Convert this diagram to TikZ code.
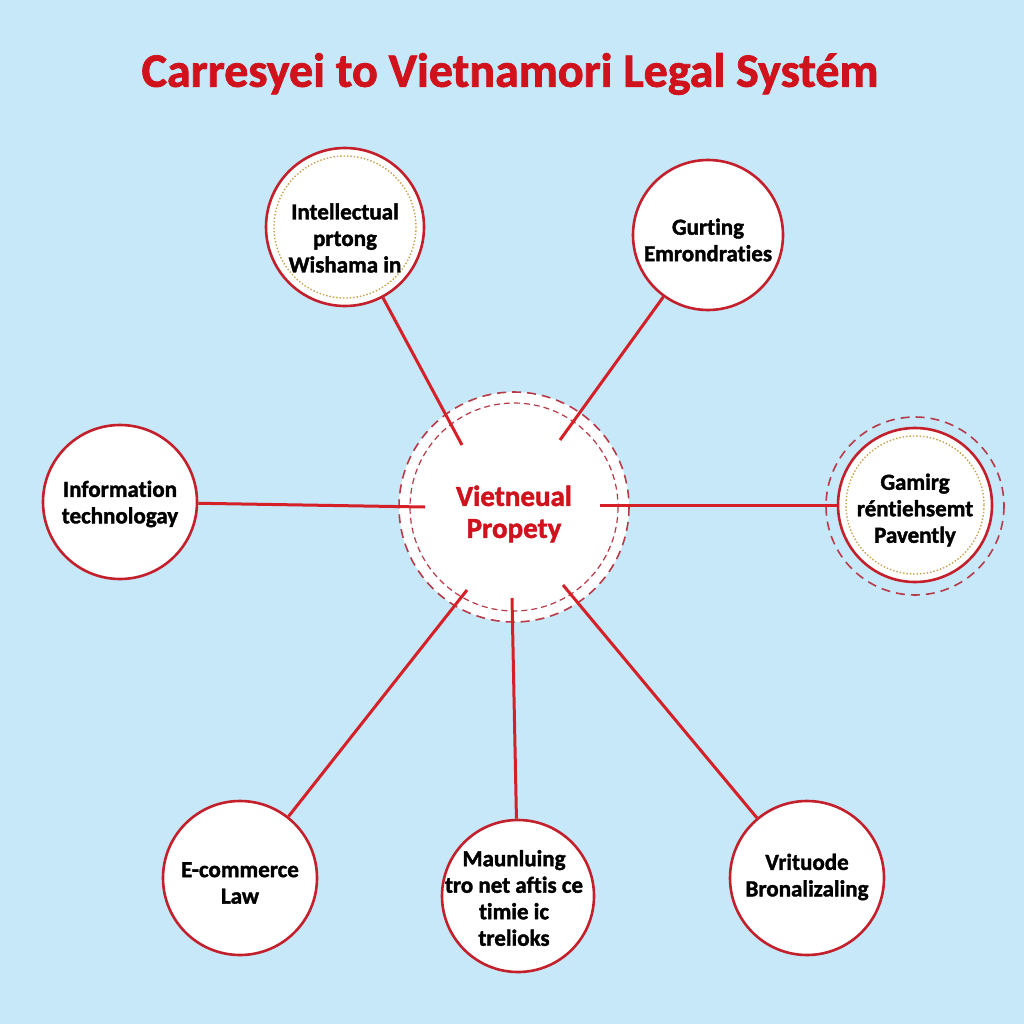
\documentclass[tikz,border=0pt]{standalone}
\usepackage{fontspec}
\setmainfont{Carlito}[Ligatures={NoCommon},BoldFeatures={FakeBold=1.6}]
\definecolor{bgblue}{HTML}{C6E8F9}
\definecolor{tred}{HTML}{D0121C}
\definecolor{lred}{HTML}{D42026}
\definecolor{cred}{HTML}{C4202C}
\definecolor{dred}{HTML}{B83A48}
\definecolor{gold}{HTML}{C8A048}
\begin{document}
\begin{tikzpicture}[x=1pt,y=-1pt,
  sat/.style={circle,draw=cred,line width=2.6pt,fill=white,minimum size=#1,inner sep=0pt},
  lab/.style={align=center,font=\fontsize{23}{26.5}\selectfont\bfseries,text=black,inner sep=0pt},
  spoke/.style={draw=lred,line width=3pt},
  golddot/.style={draw=gold,line width=1.4pt,dotted},
  reddash/.style={draw=dred,line width=1.6pt,dash pattern=on 9pt off 6pt}]
\useasboundingbox (0,0) rectangle (1024,1024);
\fill[bgblue] (0,0) rectangle (1024,1024);
% title
\node[font=\fontsize{48}{52}\selectfont\bfseries,text=tred] (title) at (510,74) {Carresyei to Vietnamori Legal Systém};
% centre
\node[circle,fill=white,minimum size=230pt,inner sep=0pt] (c) at (514,507) {};
\draw[reddash] (c.center) circle (115);
\draw[draw=dred,line width=1.2pt,dash pattern=on 6pt off 4pt] (c.center) circle (104);
\node[font=\fontsize{29}{32}\selectfont\bfseries,text=tred,align=center] (ctext) at (514,514) {Vietneual\\Propety};
% spoke endpoints near centre
\coordinate (s1) at (462,445);
\coordinate (s2) at (560,440);
\coordinate (s3) at (425,507);
\coordinate (s4) at (600,505);
\coordinate (s5) at (467,590);
\coordinate (s6) at (512,598);
\coordinate (s7) at (563,585);
% satellites
\node[sat=158pt] (tl) at (345,227) {};
\draw[golddot] (tl.center) circle (71);
\node[lab] (tlt) at (345,238) {Intellectual\\prtong\\Wishama in};
\node[sat=150pt] (tr) at (708,235) {};
\node[lab] (trt) at (708,240) {Gurting\\Emrondraties};
\node[sat=154pt] (le) at (120,502) {};
\node[lab] (let) at (120,504) {Information\\technologay};
\draw[reddash] (915,506) circle (89);
\node[sat=154pt] (ri) at (915,505) {};
\draw[golddot] (ri.center) circle (69);
\node[lab] (rit) at (915,510) {Gamirg\\réntiehsemt\\Pavently};
\node[sat=154pt] (bl) at (240,878) {};
\node[lab] (blt) at (240,883) {E-commerce\\Law};
\node[sat=152pt] (bm) at (518,896) {};
\node[lab] (bmt) at (514,898) {Maunluing\\tro net aftis ce\\timie ic\\trelioks};
\node[sat=154pt] (br) at (807,878) {};
\node[lab] (brt) at (807,877) {Vrituode\\Bronalizaling};
% spokes
\draw[spoke] (s1) -- (tl);
\draw[spoke] (s2) -- (tr);
\draw[spoke] (s3) -- (le);
\draw[spoke] (s4) -- (ri);
\draw[spoke] (s5) -- (bl);
\draw[spoke] (s6) -- (bm);
\draw[spoke] (s7) -- (br);
\end{tikzpicture}
\end{document}
